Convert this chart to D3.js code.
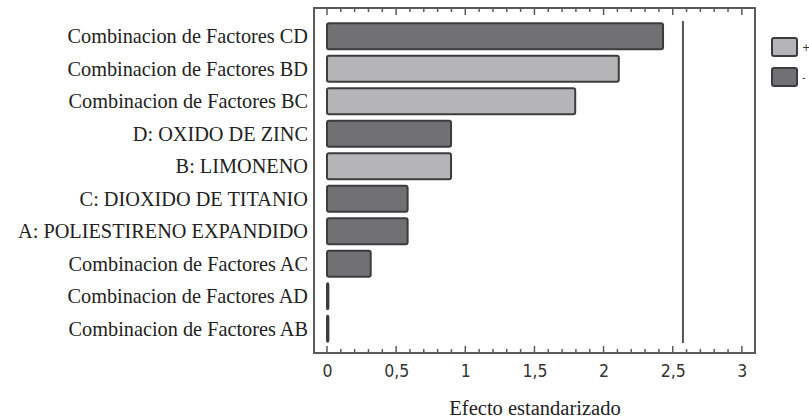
<!DOCTYPE html>
<html>
<head>
<meta charset="utf-8">
<script src="https://cdn.jsdelivr.net/npm/d3@7"></script>
<style>
  body { margin: 0; background: #fff; }
  svg { display: block; }
  .serif { font-family: "Liberation Serif", "Times New Roman", serif; }
  .narrow { font-family: "DejaVu Sans Condensed", "Liberation Sans", sans-serif; }
</style>
</head>
<body>
<div id="chart"></div>
<script>
// Pareto chart data (top to bottom)
const factors = [
    "Combinacion de Factores CD",
    "Combinacion de Factores BD",
    "Combinacion de Factores BC",
    "D: OXIDO DE ZINC",
    "B: LIMONENO",
    "C: DIOXIDO DE TITANIO",
    "A: POLIESTIRENO EXPANDIDO",
    "Combinacion de Factores AC",
    "Combinacion de Factores AD",
    "Combinacion de Factores AB"
];
const effects = [2.43, 2.11, 1.795, 0.897, 0.897, 0.583, 0.583, 0.316, 0.01, 0.01];
const signs = ["-", "+", "+", "-", "+", "-", "-", "-", "-", "-"];
const xTicks = [0, 0.5, 1, 1.5, 2, 2.5, 3];
const criticalValue = 2.574;
const legendLabels = ["+", "-"];

const width = 809, height = 420;
const frame = {left: 314, top: 8, right: 755, bottom: 353};
const colors = {"+": "#b5b5b7", "-": "#717174"};

const svg = d3.select("#chart").append("svg")
    .attr("width", width)
    .attr("height", height);

// -- scales
const x = d3.scaleLinear()
    .domain([-0.094, 3.095])
    .range([frame.left, frame.right]);

const y = d3.scaleBand()
    .domain(factors)
    .range([20, 345])
    .paddingInner(0.2)
    .paddingOuter(0.1);

// -- frame
svg.append("rect")
    .attr("x", frame.left)
    .attr("y", frame.top)
    .attr("width", frame.right - frame.left)
    .attr("height", frame.bottom - frame.top)
    .attr("fill", "none")
    .attr("stroke", "#5a5a5a")
    .attr("stroke-width", 2);

// minor + major ticks on top and bottom edges, pointing inward
const minorTicks = d3.range(0, 31).map(i => i / 10);
const tickGroup = svg.append("g").attr("stroke", "#5a5a5a").attr("stroke-width", 1.5);
minorTicks.forEach(t => {
    let major = Math.abs(t * 2 - Math.round(t * 2)) < 1e-6;
    let len = major ? 7 : 4;
    tickGroup.append("line")
        .attr("x1", x(t)).attr("x2", x(t))
        .attr("y1", frame.bottom).attr("y2", frame.bottom - len);
    tickGroup.append("line")
        .attr("x1", x(t)).attr("x2", x(t))
        .attr("y1", frame.top).attr("y2", frame.top + len);
});

// bottom axis labels
const xAxis = d3.axisBottom(x)
    .tickValues(xTicks)
    .tickSize(0)
    .tickPadding(12)
    .tickFormat(d => String(d).replace(".", ","));

svg.append("g")
    .attr("class", "x axis")
    .attr("transform", `translate(0, ${frame.bottom})`)
    .call(xAxis)
    .call(g => g.select(".domain").remove())
    .call(g => g.attr("font-family", null).attr("font-size", null))
    .selectAll("text")
    .attr("class", "narrow")
    .attr("font-size", 17.5)
    .attr("fill", "#333");

svg.append("text")
    .attr("class", "serif")
    .attr("x", 535)
    .attr("y", 415)
    .attr("text-anchor", "middle")
    .attr("font-size", 20.5)
    .attr("fill", "#222")
    .text("Efecto estandarizado");

// category labels
svg.append("g")
    .selectAll("text")
    .data(factors)
    .join("text")
    .attr("class", "serif")
    .attr("x", 308)
    .attr("y", d => y(d) + y.bandwidth() / 2)
    .attr("dy", "0.35em")
    .attr("text-anchor", "end")
    .attr("font-size", 20.3)
    .attr("fill", "#222")
    .text(d => d);

// bars
const barData = factors.map((f, i) => ({factor: f, value: effects[i], sign: signs[i]}));
svg.append("g")
    .attr("class", "bar-group")
    .selectAll("rect")
    .data(barData)
    .join("rect")
    .attr("x", x(0))
    .attr("y", d => y(d.factor))
    .attr("width", d => x(d.value) - x(0))
    .attr("height", y.bandwidth())
    .attr("rx", 2)
    .attr("fill", d => colors[d.sign])
    .attr("stroke", "#3c3c3e")
    .attr("stroke-width", 2);

// critical value line
svg.append("line")
    .attr("x1", x(criticalValue)).attr("x2", x(criticalValue))
    .attr("y1", 21).attr("y2", 343)
    .attr("stroke", "#555")
    .attr("stroke-width", 2);

// legend (cut off at the right edge, as in the source image)
const legend = svg.append("g");
legendLabels.forEach((l, i) => {
    legend.append("rect")
        .attr("x", 772)
        .attr("y", 38 + i * 30)
        .attr("width", 25)
        .attr("height", 18)
        .attr("rx", 2)
        .attr("fill", colors[l])
        .attr("stroke", "#3c3c3e")
        .attr("stroke-width", 2);
    legend.append("text")
        .attr("class", "narrow")
        .attr("x", 802)
        .attr("y", 47 + i * 30)
        .attr("dy", "0.35em")
        .attr("font-size", 11)
        .attr("fill", "#333")
        .text(l);
});
</script>
</body>
</html>
